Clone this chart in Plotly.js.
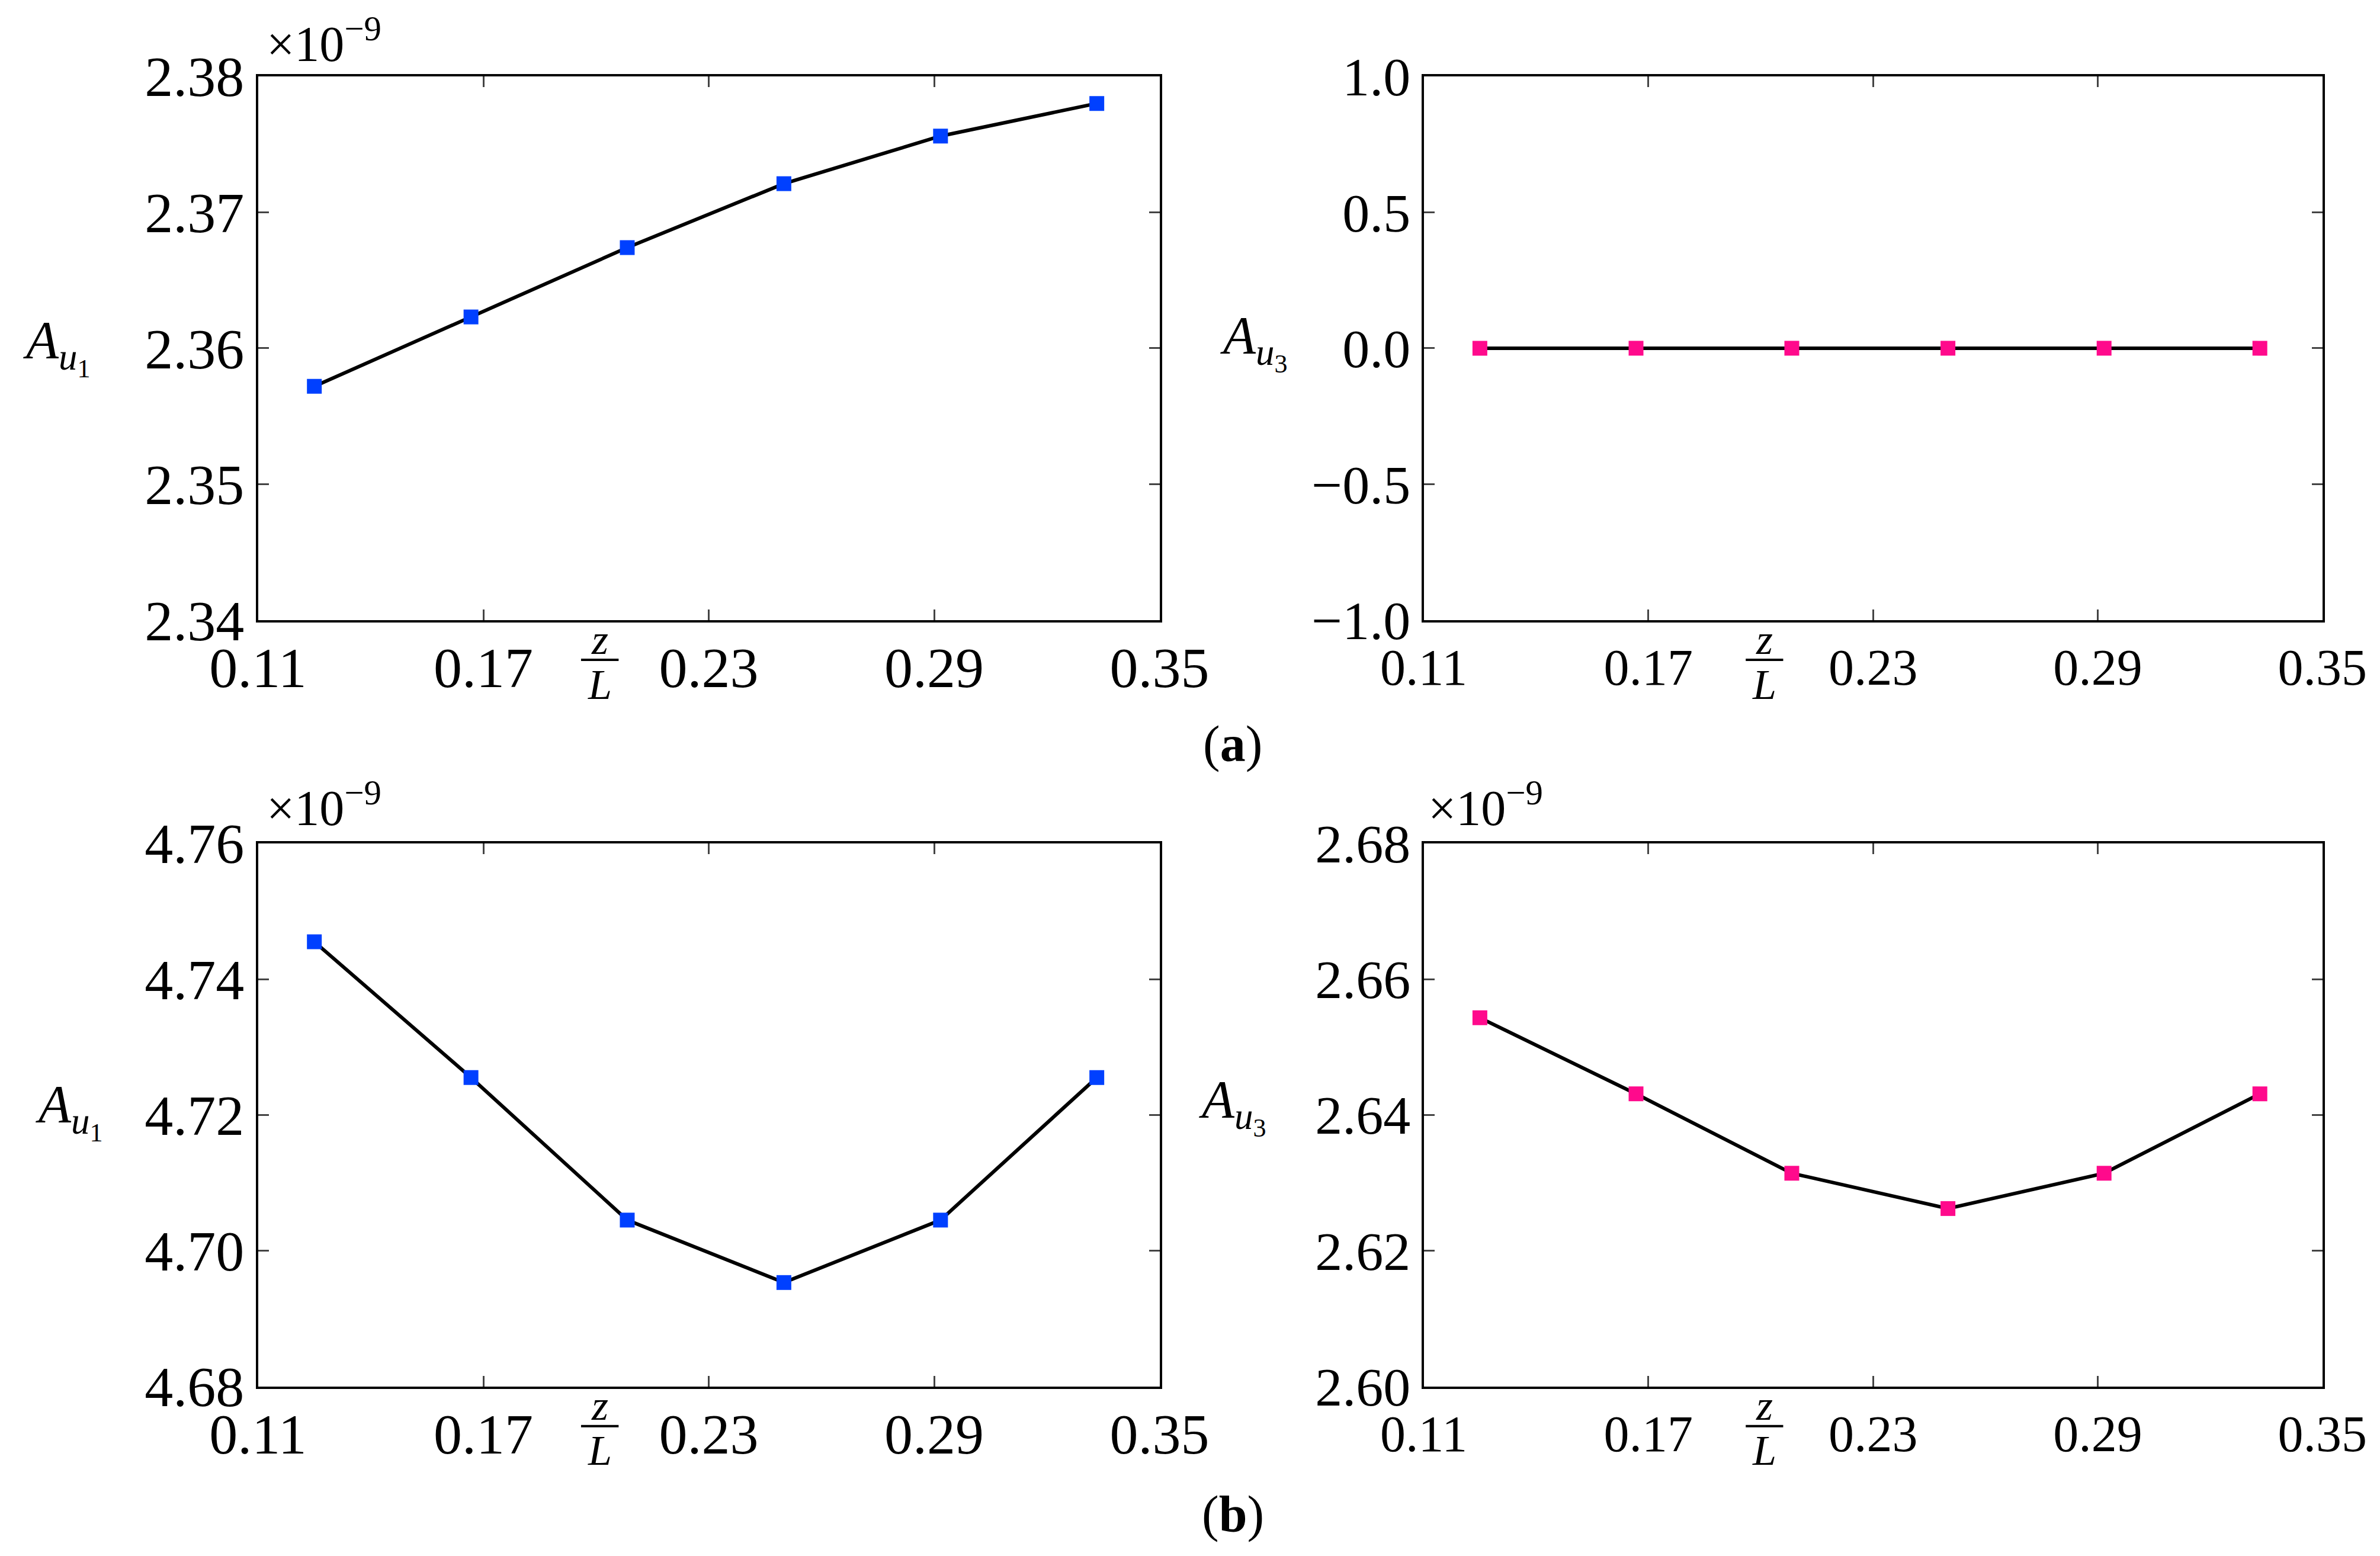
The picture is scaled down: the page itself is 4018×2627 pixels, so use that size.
<!DOCTYPE html>
<html>
<head>
<meta charset="utf-8" />
<script src="https://cdn.plot.ly/plotly-3.0.1.min.js"></script>
<style>
  html, body { margin: 0; padding: 0; background: #fff; }
  #chart { width: 4018px; height: 2627px; }
</style>
</head>
<body>
<div id="chart"></div>
<script>
  // z/L positions (same for all four panels)
  const zL = [0.125, 0.1667, 0.2083, 0.25, 0.2917, 0.3333];

  // amplitudes, in units of 1e-9 (as on the axes)
  const au1A = [2.3572, 2.3623, 2.3674, 2.3721, 2.3756, 2.3780];
  const au3A = [0, 0, 0, 0, 0, 0];
  const au1B = [4.7455, 4.7255, 4.7045, 4.6953, 4.7045, 4.7255];
  const au3B = [2.6543, 2.6431, 2.6314, 2.6262, 2.6314, 2.6431];

  const xTicks = [0.11, 0.17, 0.23, 0.29, 0.35];
  const blue = "#0040ff";
  const pink = "#ff0a8c";
  const serif = "Liberation Serif";

  function series(y, xa, ya, color) {
    return {
      x: zL,
      y: y,
      xaxis: xa,
      yaxis: ya,
      type: "scatter",
      mode: "lines+markers",
      line: { color: "black", width: 6 },
      marker: { symbol: "square", size: 25, color: color },
      hoverinfo: "none",
      showlegend: false,
    };
  }

  function xAxis(domain, anchor, size, standoff) {
    return {
      domain: domain,
      anchor: anchor,
      range: [0.11, 0.35],
      tickvals: xTicks,
      tickformat: ".2f",
      ticks: "inside",
      ticklen: 18,
      tickwidth: 3,
      ticklabelstandoff: standoff,
      showline: true,
      linewidth: 4,
      linecolor: "black",
      mirror: "ticks",
      showgrid: false,
      zeroline: false,
      tickfont: { family: serif, size: size, color: "black" },
    };
  }

  function yAxis(domain, anchor, range, dtick, fmt, size) {
    return {
      domain: domain,
      anchor: anchor,
      range: range,
      tick0: range[0],
      dtick: dtick,
      tickformat: fmt,
      ticks: "inside",
      ticklen: 18,
      tickwidth: 3,
      showline: true,
      linewidth: 4,
      linecolor: "black",
      mirror: "ticks",
      showgrid: false,
      zeroline: false,
      tickfont: { family: serif, size: size, color: "black" },
    };
  }

  const colL = [0.1084, 0.4872];
  const colR = [0.5982, 0.9758];
  const rowT = [0.6014, 0.951];
  const rowB = [0.109, 0.458];

  const data = [
    series(au1A, "x", "y", blue),
    series(au3A, "x2", "y2", pink),
    series(au1B, "x3", "y3", blue),
    series(au3B, "x4", "y4", pink),
  ];

  const annotations = [];
  const shapes = [];

  function txt(text, x, y, size, xref, xanchor) {
    annotations.push({
      text: text,
      x: x,
      y: y,
      xref: xref || "paper",
      yref: "paper",
      xanchor: xanchor || "center",
      yanchor: "middle",
      showarrow: false,
      font: { family: serif, size: size, color: "black" },
    });
  }

  // fraction z/L under each x axis
  function fraction(xref, bottom) {
    const xc = 0.201;
    txt("<i>z</i>", xc, bottom - 0.0125, 72, xref);
    txt("<i>L</i>", xc, bottom - 0.0414, 72, xref);
    shapes.push({
      type: "line",
      xref: xref,
      yref: "paper",
      x0: xc - 0.005,
      x1: xc + 0.005,
      y0: bottom - 0.0255,
      y1: bottom - 0.0255,
      line: { color: "black", width: 4 },
    });
  }
  fraction("x", rowT[0]);
  fraction("x2", rowT[0]);
  fraction("x3", rowB[0]);
  fraction("x4", rowB[0]);

  // y axis labels
  const au1 = "<i>A</i><sub><i>u</i><sub>1</sub></sub>";
  const au3 = "<i>A</i><sub><i>u</i><sub>3</sub></sub>";
  txt(au1, 0.024, 0.777, 90);
  txt(au3, 0.527, 0.780, 90);
  txt(au1, 0.029, 0.286, 90);
  txt(au3, 0.518, 0.289, 90);

  // exponent markers
  const expo = "×10<sup>−9</sup>";
  txt(expo, 0.1115, 0.974, 84, "paper", "left");
  txt(expo, 0.1115, 0.483, 84, "paper", "left");
  txt(expo, 0.5995, 0.483, 84, "paper", "left");

  // panel letters
  txt("(<b>a</b>)", 0.518, 0.522, 86);
  txt("(<b>b</b>)", 0.518, 0.027, 86);

  const layout = {
    width: 4018,
    height: 2627,
    margin: { l: 0, r: 0, t: 0, b: 0 },
    paper_bgcolor: "white",
    plot_bgcolor: "white",
    showlegend: false,
    font: { family: serif, color: "black" },
    xaxis: xAxis(colL, "y", 96, -6),
    yaxis: yAxis(rowT, "x", [2.34, 2.38], 0.01, ".2f", 96),
    xaxis2: xAxis(colR, "y2", 86, 2),
    yaxis2: yAxis(rowT, "x2", [-1, 1], 0.5, ".1f", 92),
    xaxis3: xAxis(colL, "y3", 96, -6),
    yaxis3: yAxis(rowB, "x3", [4.68, 4.76], 0.02, ".2f", 96),
    xaxis4: xAxis(colR, "y4", 86, 2),
    yaxis4: yAxis(rowB, "x4", [2.6, 2.68], 0.02, ".2f", 92),
    annotations: annotations,
    shapes: shapes,
  };

  Plotly.newPlot("chart", data, layout, { displayModeBar: false });
</script>
</body>
</html>
